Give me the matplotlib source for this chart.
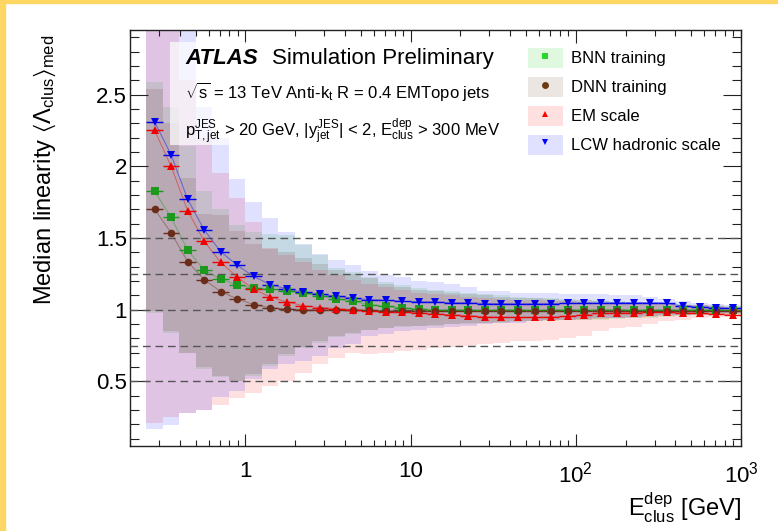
import numpy as np
import matplotlib.pyplot as plt
from matplotlib.patches import Rectangle, Patch
from matplotlib.lines import Line2D
from matplotlib.ticker import FixedLocator, FixedFormatter, NullFormatter

plt.rcParams['font.family'] = ['Liberation Sans', 'DejaVu Sans']
plt.rcParams['mathtext.fontset'] = 'custom'
plt.rcParams['mathtext.rm'] = 'Liberation Sans'
plt.rcParams['mathtext.it'] = 'Liberation Sans:italic'
plt.rcParams['mathtext.bf'] = 'Liberation Sans:bold'
plt.rcParams['mathtext.default'] = 'regular'

# 36 log bins, 0.1 decade wide, from 10^-0.6 to 10^3 GeV
bin_edges = np.logspace(-0.6, 3.0, 37)

# median linearity per bin
bnn = [1.825, 1.643, 1.416, 1.276, 1.213, 1.172, 1.152, 1.145, 1.130, 1.114, 1.097, 1.078,
       1.058, 1.035, 1.023, 1.012, 1.007, 1.000, 0.998, 0.997, 0.997, 0.997, 0.997, 0.997,
       0.997, 0.998, 0.998, 0.997, 0.998, 0.997, 0.997, 0.997, 0.997, 1.000, 0.997, 0.996]
dnn = [1.700, 1.536, 1.336, 1.210, 1.127, 1.075, 1.036, 1.014, 1.005, 1.000, 0.999, 0.998,
       0.997, 0.995, 0.993, 0.993, 0.992, 0.993, 0.993, 0.993, 0.992, 0.992, 0.993, 0.992,
       0.993, 0.993, 0.994, 0.994, 0.994, 0.994, 0.993, 0.993, 0.992, 0.991, 0.990, 0.990]
em = [2.250, 2.000, 1.690, 1.478, 1.330, 1.228, 1.143, 1.088, 1.055, 1.028, 1.015, 1.007,
      1.000, 0.990, 0.985, 0.982, 0.977, 0.970, 0.965, 0.958, 0.950, 0.947, 0.946, 0.946,
      0.948, 0.953, 0.965, 0.975, 0.977, 0.980, 0.981, 0.981, 0.978, 0.976, 0.970, 0.966]
lcw = [2.310, 2.080, 1.770, 1.557, 1.405, 1.310, 1.232, 1.175, 1.145, 1.122, 1.108, 1.095,
       1.080, 1.070, 1.066, 1.058, 1.056, 1.053, 1.049, 1.048, 1.043, 1.042, 1.041, 1.041,
       1.042, 1.045, 1.046, 1.047, 1.049, 1.050, 1.050, 1.047, 1.024, 1.019, 1.014, 1.009]

# spread bands (lower / upper edge per bin)
bnn_lo = [0.98, 0.84, 0.70, 0.59, 0.53, 0.50, 0.54, 0.61, 0.68, 0.73, 0.77, 0.81,
          0.83, 0.86, 0.87, 0.88, 0.89, 0.89, 0.90, 0.90, 0.91, 0.91, 0.915, 0.92,
          0.92, 0.925, 0.93, 0.93, 0.935, 0.94, 0.945, 0.95, 0.955, 0.96, 0.965, 0.97]
bnn_hi = [2.59, 2.41, 2.14, 1.83, 1.70, 1.59, 1.54, 1.53, 1.52, 1.45, 1.38, 1.29,
          1.26, 1.23, 1.19, 1.17, 1.15, 1.14, 1.13, 1.12, 1.11, 1.10, 1.09, 1.085,
          1.08, 1.075, 1.07, 1.065, 1.06, 1.055, 1.05, 1.045, 1.04, 1.035, 1.03, 1.025]
dnn_lo = [0.99, 0.85, 0.70, 0.60, 0.54, 0.50, 0.55, 0.62, 0.69, 0.74, 0.78, 0.82,
          0.84, 0.86, 0.875, 0.885, 0.89, 0.895, 0.90, 0.905, 0.91, 0.915, 0.92, 0.92,
          0.925, 0.93, 0.93, 0.935, 0.94, 0.945, 0.95, 0.955, 0.96, 0.96, 0.965, 0.97]
dnn_hi = [2.54, 2.30, 1.92, 1.67, 1.66, 1.55, 1.46, 1.42, 1.40, 1.36, 1.32, 1.28,
          1.25, 1.22, 1.18, 1.16, 1.14, 1.13, 1.12, 1.11, 1.10, 1.09, 1.085, 1.08,
          1.075, 1.07, 1.065, 1.06, 1.055, 1.05, 1.045, 1.04, 1.035, 1.03, 1.025, 1.02]
em_lo = [0.21, 0.25, 0.28, 0.30, 0.336, 0.385, 0.42, 0.47, 0.50, 0.56, 0.62, 0.66,
         0.70, 0.69, 0.70, 0.71, 0.72, 0.73, 0.74, 0.75, 0.76, 0.77, 0.78, 0.785,
         0.79, 0.80, 0.82, 0.85, 0.87, 0.88, 0.90, 0.92, 0.93, 0.94, 0.95, 0.955]
em_hi = [3.50, 3.50, 2.60, 2.20, 1.95, 1.78, 1.61, 1.43, 1.38, 1.33, 1.28, 1.24,
         1.21, 1.18, 1.16, 1.14, 1.12, 1.11, 1.10, 1.09, 1.08, 1.075, 1.07, 1.065,
         1.06, 1.06, 1.055, 1.05, 1.05, 1.045, 1.04, 1.04, 1.035, 1.03, 1.025, 1.02]
lcw_lo = [0.168, 0.196, 0.28, 0.30, 0.39, 0.434, 0.52, 0.587, 0.625, 0.64, 0.68, 0.736,
          0.76, 0.82, 0.83, 0.85, 0.86, 0.87, 0.88, 0.89, 0.90, 0.905, 0.91, 0.92,
          0.925, 0.93, 0.935, 0.94, 0.945, 0.95, 0.955, 0.96, 0.965, 0.97, 0.975, 0.98]
lcw_hi = [3.50, 3.50, 3.50, 2.41, 2.20, 1.91, 1.75, 1.64, 1.54, 1.46, 1.39, 1.35,
          1.31, 1.27, 1.24, 1.225, 1.20, 1.19, 1.18, 1.156, 1.13, 1.13, 1.12, 1.116,
          1.116, 1.11, 1.11, 1.11, 1.10, 1.10, 1.086, 1.075, 1.063, 1.05, 1.04, 1.03]

labels = ['BNN training', 'DNN training', 'EM scale', 'LCW hadronic scale']

centers = np.sqrt(bin_edges[:-1] * bin_edges[1:])
xerr = [centers - bin_edges[:-1], bin_edges[1:] - centers]

fig = plt.figure(figsize=(7.78, 5.31), dpi=100)
ax = fig.add_axes([130 / 778, 1 - 446 / 531, 611 / 778, 416 / 531])

# yellow frame at left and top
fig.patches.append(Rectangle((0, 0), 5 / 778, 1, transform=fig.transFigure,
                             color='#fdd663', zorder=0))
fig.patches.append(Rectangle((0, 1 - 3 / 531), 1, 3 / 531, transform=fig.transFigure,
                             color='#fdd663', zorder=0))

series = [
    (bnn, bnn_lo, bnn_hi, 's', '#1d9a1d', '#00cc00', '#2bd62b', 0.12),
    (dnn, dnn_lo, dnn_hi, 'o', '#6b2d1a', '#663311', '#6b3a12', 0.14),
    (em, em_lo, em_hi, '^', '#ee0000', '#ff0000', '#ff0000', 0.12),
    (lcw, lcw_lo, lcw_hi, 'v', '#0000ee', '#0000ff', '#0000ff', 0.12),
]

for vals, lo, hi, mk, col, bcol, lcol, a in series:
    ax.stairs(hi, bin_edges, baseline=lo, fill=True, color=bcol, alpha=a,
              lw=0, zorder=1)

# white translucent box behind the text block
ax.add_patch(Rectangle((0.066, 0.724), 0.565, 0.247, transform=ax.transAxes,
                       facecolor='white', edgecolor='none', alpha=0.7, zorder=2))

for yv in [0.5, 0.75, 1.0, 1.25, 1.5]:
    ax.axhline(yv, color='#555555', lw=1.0, dashes=(5.5, 3.5), zorder=3)

for vals, lo, hi, mk, col, bcol, lcol, a in series:
    ax.plot(centers, vals, color=col, lw=0.8, alpha=0.4, zorder=4)
    ax.errorbar(centers, vals, xerr=xerr, fmt=mk, color=col, ms=5.5, mew=0,
                elinewidth=1.0, ecolor=col, capsize=0, zorder=5)

ax.set_xscale('log')
ax.set_xlim(0.2, 1000)
ax.set_ylim(0.05, 2.95)

ax.xaxis.set_major_locator(FixedLocator([1, 10, 100, 1000]))
ax.xaxis.set_major_formatter(FixedFormatter(['1', '10', '$10^{2}$', '$10^{3}$']))
ax.xaxis.set_minor_formatter(NullFormatter())
ax.set_yticks([0.5, 1, 1.5, 2, 2.5])
ax.set_yticklabels(['0.5', '1', '1.5', '2', '2.5'])
ax.yaxis.set_minor_locator(FixedLocator(np.arange(0.1, 2.95, 0.1)))

ax.tick_params(axis='both', which='both', direction='in', top=True, right=True,
               width=0.8, color='#222222')
ax.tick_params(axis='x', which='major', length=9, labelsize=16, pad=11)
ax.tick_params(axis='x', which='minor', length=4.5)
ax.tick_params(axis='y', which='major', length=13, labelsize=16, pad=2)
ax.tick_params(axis='y', which='minor', length=6.5)
for sp in ax.spines.values():
    sp.set_linewidth(1.0)
    sp.set_color('#222222')

# text block
ax.text(0.09, 0.919, 'ATLAS', transform=ax.transAxes, fontsize=16,
        fontweight='bold', fontstyle='italic', va='baseline', zorder=6)
ax.text(0.233, 0.919, 'Simulation Preliminary', transform=ax.transAxes, fontsize=16,
        va='baseline', zorder=6)
ax.text(0.09, 0.837, r'$\sqrt{s}$ = 13 TeV Anti-$k_{t}$ R = 0.4 EMTopo jets',
        transform=ax.transAxes, fontsize=12, va='baseline', zorder=6)
ax.text(0.09, 0.743,
        r'$p_{T,jet}^{JES}$ > 20 GeV, $|y_{jet}^{JES}|$ < 2, $E_{clus}^{dep}$ > 300 MeV',
        transform=ax.transAxes, fontsize=12, va='baseline', zorder=6)

# legend: light swatch with a small marker
handles = []
for vals, lo, hi, mk, col, bcol, lcol, a in series:
    sw = Patch(facecolor=bcol, alpha=0.12, edgecolor='none')
    m = Line2D([], [], marker=mk, ls='none', color=lcol, ms=5, mew=0)
    handles.append((sw, m))
leg = ax.legend(handles, labels, loc='upper left', bbox_to_anchor=(0.651, 0.957),
                frameon=False, fontsize=12, handlelength=2.1, handleheight=1.45,
                labelspacing=0.55, handletextpad=0.5, borderpad=0, borderaxespad=0)
leg.set_zorder(6)

fig.text(45 / 778, 1 - 35 / 531,
         r'Median linearity $\langle\Lambda_{clus}\rangle_{med}$',
         rotation=90, ha='center', va='top', fontsize=17)
fig.text(741 / 778, 1 - 516 / 531, r'$E_{clus}^{dep}$ [GeV]',
         ha='right', va='baseline', fontsize=17)

fig.savefig('out.png', dpi=100)
